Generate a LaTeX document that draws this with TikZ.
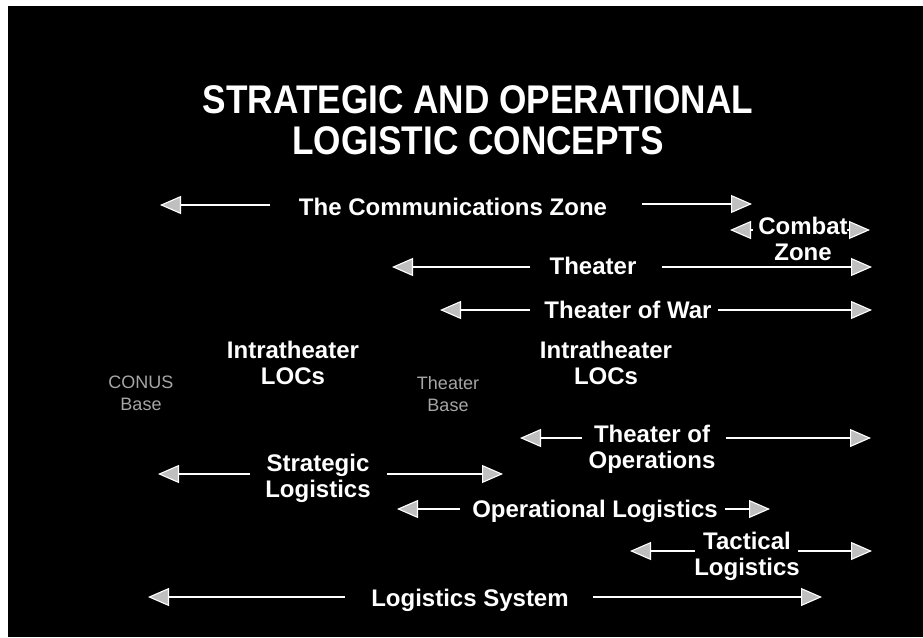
\documentclass[tikz,border=0pt]{standalone}
\usepackage{fontspec}
\setmainfont{Liberation Sans}
\newfontfamily\titlefont[FakeStretch=0.88]{Liberation Sans}
\usetikzlibrary{arrows.meta}

\tikzset{
  lbl/.style={text=white, font=\fontsize{24}{26}\selectfont\bfseries, align=center, inner sep=0pt},
  place/.style={text=gray!70, font=\fontsize{18}{22}\selectfont, align=center, inner sep=0pt},
  arr/.style={white, line width=1.6pt, -{Triangle[length=21pt,width=18pt,fill=gray!50,line width=1.1pt]}}
}

\begin{document}
\begin{tikzpicture}[x=1pt,y=-1pt]

        \fill[white] (0,0) rectangle (923,637);
        \fill[black] (8,6) rectangle (923,637);
        \useasboundingbox (0,0) rectangle (923,637);

        % title
        \node[text=white, align=center, inner sep=0pt, font=\fontsize{40}{41}\selectfont\titlefont\bfseries] (title) at (478,120) {STRATEGIC AND OPERATIONAL\\LOGISTIC CONCEPTS};

        % arrow ends
        \coordinate (comzA) at (270,205);
        \coordinate (comzB) at (160,205);
        \coordinate (comzC) at (642,204);
        \coordinate (comzD) at (752,204);
        \coordinate (combA) at (753,230);
        \coordinate (combB) at (730,230);
        \coordinate (combC) at (847,230);
        \coordinate (combD) at (870,230);
        \coordinate (theaA) at (530,267);
        \coordinate (theaB) at (392,267);
        \coordinate (theaC) at (662,267);
        \coordinate (theaD) at (872,267);
        \coordinate (warA) at (530,310);
        \coordinate (warB) at (440,310);
        \coordinate (warC) at (718,310);
        \coordinate (warD) at (872,310);
        \coordinate (opsA) at (582,438);
        \coordinate (opsB) at (520,438);
        \coordinate (opsC) at (726,438);
        \coordinate (opsD) at (871,438);
        \coordinate (stratA) at (250,474);
        \coordinate (stratB) at (158,474);
        \coordinate (stratC) at (387,474);
        \coordinate (stratD) at (503,474);
        \coordinate (operA) at (460,509);
        \coordinate (operB) at (397,509);
        \coordinate (operC) at (725,509);
        \coordinate (operD) at (770,509);
        \coordinate (tactA) at (695,551);
        \coordinate (tactB) at (630,551);
        \coordinate (tactC) at (798,551);
        \coordinate (tactD) at (872,551);
        \coordinate (sysA) at (345,597);
        \coordinate (sysB) at (148,597);
        \coordinate (sysC) at (593,597);
        \coordinate (sysD) at (822,597);

        % labels
        \node[lbl, anchor=base] (comz) at (453,215) {The Communications Zone};
        \node[lbl] (combat) at (803,239) {Combat\\Zone};
        \node[lbl, anchor=base] (thea) at (593,274) {Theater};
        \node[lbl, anchor=base] (war) at (628,318) {Theater of War};
        \node[lbl] (locsA) at (293,363) {Intratheater\\LOCs};
        \node[lbl] (locsB) at (606,363) {Intratheater\\LOCs};
        \node[place] (conus) at (141,393) {CONUS\\Base};
        \node[place] (tbase) at (448,394) {Theater\\Base};
        \node[lbl] (ops) at (652,449) {Theater of\\Operations};
        \node[lbl] (strat) at (318,478) {Strategic\\Logistics};
        \node[lbl, anchor=base] (oper) at (595,517) {Operational Logistics};
        \node[lbl] (tact) at (747,556) {Tactical\\Logistics};
        \node[lbl, anchor=base] (sys) at (470,606) {Logistics System};

        % arrows
        \draw[arr] (comzA)--(comzB);
        \draw[arr] (comzC)--(comzD);
        \draw[arr] (combA)--(combB);
        \draw[arr] (combC)--(combD);
        \draw[arr] (theaA)--(theaB);
        \draw[arr] (theaC)--(theaD);
        \draw[arr] (warA)--(warB);
        \draw[arr] (warC)--(warD);
        \draw[arr] (opsA)--(opsB);
        \draw[arr] (opsC)--(opsD);
        \draw[arr] (stratA)--(stratB);
        \draw[arr] (stratC)--(stratD);
        \draw[arr] (operA)--(operB);
        \draw[arr] (operC)--(operD);
        \draw[arr] (tactA)--(tactB);
        \draw[arr] (tactC)--(tactD);
        \draw[arr] (sysA)--(sysB);
        \draw[arr] (sysC)--(sysD);

\end{tikzpicture}
\end{document}
